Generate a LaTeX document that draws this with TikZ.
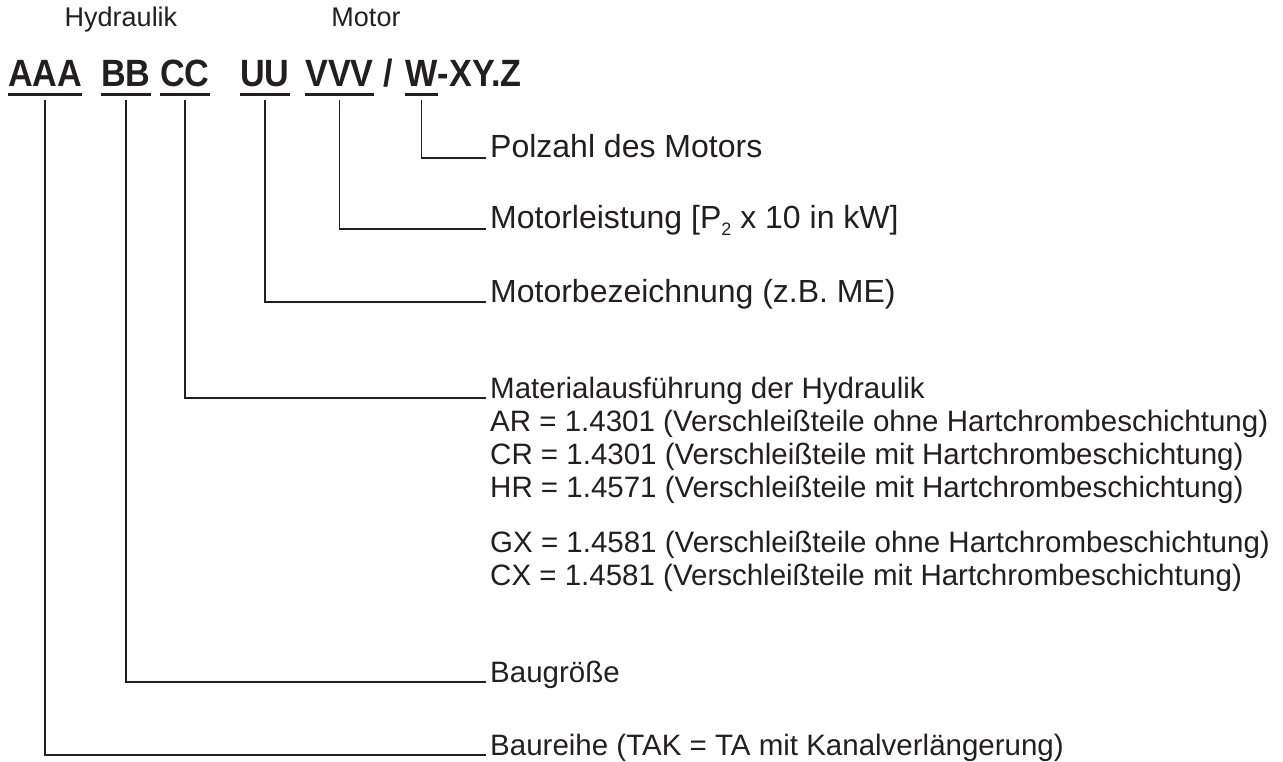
\documentclass[tikz,border=0pt]{standalone}
\usepackage{fontspec}
\setmainfont{Liberation Sans}
\newfontfamily\codefont[FakeStretch=0.9]{Liberation Sans Bold}
\usetikzlibrary{positioning}
\definecolor{ink}{RGB}{35,31,32}

\begin{document}
\begin{tikzpicture}[
  x=1pt, y=-1pt,
  every node/.style={text=ink},
  code/.style={font=\fontsize{38}{38}\selectfont\codefont, inner sep=0pt, anchor=base west},
  head/.style={font=\fontsize{27}{27}\selectfont, inner sep=0pt, anchor=base},
  txt/.style={font=\fontsize{29.5}{31}\selectfont, inner sep=0pt, anchor=base west},
  bigtxt/.style={txt, font=\fontsize{32}{32}\selectfont},
  uline/.style={draw=ink, line width=3pt},
  conn/.style={draw=ink, line width=1.6pt}
  ]
  \useasboundingbox (0,0) rectangle (1283,762);

  % Kopfzeile
  \node[head] (hyd) at (121,27) {Hydraulik};
  \node[head] (mot) at (366,27) {Motor};

  % Typenschluessel
  \node[code] (aaa) at (8,87) {AAA};
  \node[code] (bb) at (101,87) {BB};
  \node[code] (cc) at (160,87) {CC};
  \node[code] (uu) at (240,87) {UU};
  \node[code] (vvv) at (305,87) {VVV};
  \node[code] (sl) at (383,87) {/};
  \node[code] (w) at (405,87) {W};
  \node[code] (xyz) at (w.base east) {-XY.Z};

  \foreach \n in {aaa,bb,cc,uu,vvv,w}
    \draw[uline] ([yshift=-8pt]\n.base west) -- ([yshift=-8pt]\n.base east);

  % Erlaeuterungen
  \node[bigtxt] (pol) at (490,158) {Polzahl des Motors};
  \node[bigtxt] (lei) at (490,229) {Motorleistung [P\raisebox{-7pt}{\fontsize{18}{18}\selectfont 2} x 10 in kW]};
  \node[bigtxt] (bez) at (490,302) {Motorbezeichnung (z.B. ME)};
  \node[txt] (mat) at (490,398) {Materialausführung der Hydraulik};
  \node[txt] (m1) at (490,431) {AR = 1.4301 (Verschleißteile ohne Hartchrombeschichtung)};
  \node[txt] (m2) at (490,464) {CR = 1.4301 (Verschleißteile mit Hartchrombeschichtung)};
  \node[txt] (m3) at (490,497) {HR = 1.4571 (Verschleißteile mit Hartchrombeschichtung)};
  \node[txt] (m4) at (490,552) {GX = 1.4581 (Verschleißteile ohne Hartchrombeschichtung)};
  \node[txt] (m5) at (490,585) {CX = 1.4581 (Verschleißteile mit Hartchrombeschichtung)};
  \node[txt] (gro) at (490,682) {Baugröße};
  \node[txt] (rei) at (490,755) {Baureihe (TAK = TA mit Kanalverlängerung)};

  \draw[conn] ([yshift=-13pt]w.base) |- ([xshift=-4pt]pol.base west);
  \draw[conn] ([yshift=-13pt]vvv.base) |- ([xshift=-4pt]lei.base west);
  \draw[conn] ([yshift=-13pt]uu.base) |- ([xshift=-4pt]bez.base west);
  \draw[conn] ([yshift=-13pt]cc.base) |- ([xshift=-4pt]mat.base west);
  \draw[conn] ([yshift=-13pt]bb.base) |- ([xshift=-4pt]gro.base west);
  \draw[conn] ([yshift=-13pt]aaa.base) |- ([xshift=-4pt]rei.base west);
\end{tikzpicture}
\end{document}
